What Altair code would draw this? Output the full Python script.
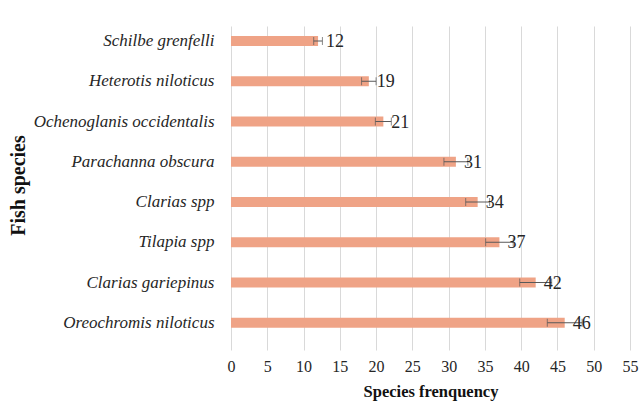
import altair as alt
import pandas as pd

species = [
    "Schilbe grenfelli",
    "Heterotis niloticus",
    "Ochenoglanis occidentalis",
    "Parachanna obscura",
    "Clarias spp",
    "Tilapia spp",
    "Clarias gariepinus",
    "Oreochromis niloticus",
]
frequency = [12, 19, 21, 31, 34, 37, 42, 46]
error = [0.6, 1.0, 1.1, 1.65, 1.65, 1.9, 2.2, 2.4]
x_ticks = [0, 5, 10, 15, 20, 25, 30, 35, 40, 45, 50, 55]

df = pd.DataFrame({"species": species, "freq": frequency, "err": error})
df["lo"] = df["freq"] - df["err"]
df["hi"] = df["freq"] + df["err"]

serif = "Liberation Serif"
ink = "#262626"

y_axis = alt.Axis(
    title="Fish species",
    titleFont=serif,
    titleFontSize=20,
    titleFontWeight="bold",
    titleColor="#111111",
    titleX=-213,
    titleY=159,
    titleBaseline="middle",
    titleAlign="center",
    titleAngle=270,
    labelFont=serif,
    labelFontSize=17,
    labelFontStyle="italic",
    labelColor=ink,
    labelPadding=17,
    labelLimit=400,
    labelOverlap=False,
    ticks=False,
    domain=False,
    grid=False,
)
y_scale = alt.Scale(paddingInner=0.75, paddingOuter=0.4, align=0.31)

x_axis = alt.Axis(
    title="Species frenquency",
    values=x_ticks,
    titleFont=serif,
    titleFontSize=16.5,
    titleFontWeight="bold",
    titleColor="#111111",
    titlePadding=9,
    labelFont=serif,
    labelFontSize=16,
    labelColor=ink,
    labelPadding=8,
    labelOverlap=False,
    labelFlush=False,
    ticks=False,
    domain=False,
    grid=True,
    gridColor="#d9d9d9",
    gridWidth=1,
)
x_scale = alt.Scale(domain=[0, 55], nice=False)


def xq(field):
    return alt.X(field, type="quantitative", scale=x_scale, axis=x_axis, title="Species frenquency")


def yn():
    return alt.Y("species:N", sort=species, scale=y_scale, axis=y_axis, title="Fish species")


base = alt.Chart(df)

bars = base.mark_bar(color="#EFA386").encode(x=xq("freq"), y=yn())

whisker = base.mark_rule(color="#595959", strokeWidth=1).encode(
    x=xq("lo"), x2="hi:Q", y=yn()
)

cap_lo = base.mark_tick(color="#595959", thickness=1, size=8, orient="vertical").encode(
    x=xq("lo"), y=yn()
)
cap_hi = base.mark_tick(color="#595959", thickness=1, size=8, orient="vertical").encode(
    x=xq("hi"), y=yn()
)

labels = base.mark_text(
    align="left", baseline="middle", dx=8, dy=1, font=serif, fontSize=18, color=ink
).encode(x=xq("freq"), y=yn(), text="freq:Q")

chart = (
    alt.layer(bars, whisker, cap_lo, cap_hi, labels)
    .properties(
        width=399,
        height=324,
        autosize=alt.AutoSizeParams(type="none"),
        padding={"left": 231, "top": 26, "right": 9, "bottom": 51},
        background="white",
    )
    .configure_view(stroke=None)
)

chart.save("out.html", embed_options={"renderer": "svg", "actions": False})
